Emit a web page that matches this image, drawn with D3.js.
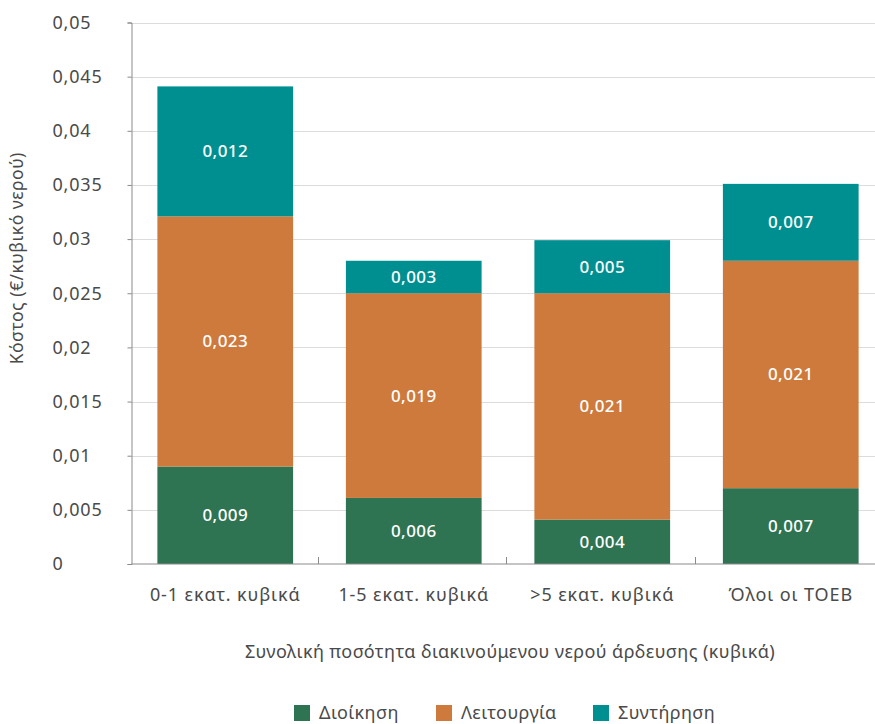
<!DOCTYPE html>
<html>
<head>
  <meta charset="utf-8">
  <title>Κόστος</title>
  <style type="text/css">
    body { margin: 0; background: #fff; overflow: hidden; }
    svg { font-family: "Noto Sans", sans-serif; }
    .grid line { stroke: #dcdcdc; }
  </style>
</head>
<body>
  <script src="https://cdn.jsdelivr.net/npm/d3@7"></script>
  <script type="text/javascript">
    var w = 875;
    var h = 724;

    // data
    var categories = ["0-1 εκατ. κυβικά", "1-5 εκατ. κυβικά", ">5 εκατ. κυβικά", "Όλοι οι ΤΟΕΒ"];
    var dioikisi = [0.0090, 0.0061, 0.0041, 0.0070];
    var leitourgia = [0.0231, 0.0189, 0.0209, 0.0210];
    var syntirisi = [0.0120, 0.0030, 0.0049, 0.0071];
    var seriesNames = ["Διοίκηση", "Λειτουργία", "Συντήρηση"];
    var colors = ["#2e7352", "#cd7a3c", "#008f91"];
    var yTicks = [0, 0.005, 0.01, 0.015, 0.02, 0.025, 0.03, 0.035, 0.04, 0.045, 0.05];

    // plot runs a little past the right edge of the window
    var margin = { left: 131, right: 885, top: 22.5, bottom: 564 };
    var textColor = "#4a4a4a";

    var rows = categories.map(function(c, i) {
      return { cat: c, d: dioikisi[i], l: leitourgia[i], s: syntirisi[i] };
    });
    var stack = d3.stack().keys(["d", "l", "s"])(rows);

    var x = d3.scaleBand()
      .domain(categories)
      .range([margin.left, margin.right])
      .paddingInner(0.28)
      .paddingOuter(0.14);

    var y = d3.scaleLinear()
      .domain([0, 0.05])
      .range([margin.bottom, margin.top]);

    var comma = function(v) { return String(v).replace(".", ","); };
    var fmt3 = function(v) { return d3.format(".3f")(v).replace(".", ","); };

    var svg = d3.select("body")
      .append("svg")
      .attr("width", w)
      .attr("height", h);

    // gridlines
    svg.append("g")
      .attr("class", "grid")
      .selectAll("line")
      .data(yTicks.slice(1))
      .enter()
      .append("line")
      .attr("x1", margin.left)
      .attr("x2", margin.right)
      .attr("y1", function(d) { return Math.round(y(d)) + 0.5; })
      .attr("y2", function(d) { return Math.round(y(d)) + 0.5; });

    // bars
    svg.append("g")
      .selectAll("g")
      .data(stack)
      .enter()
      .append("g")
      .attr("fill", function(d, i) { return colors[i]; })
      .selectAll("rect")
      .data(function(d) { return d; })
      .enter()
      .append("rect")
      .attr("x", function(d) { return x(d.data.cat); })
      .attr("width", x.bandwidth())
      .attr("y", function(d) { return y(d[1]); })
      .attr("height", function(d) { return y(d[0]) - y(d[1]); });

    // value labels
    svg.append("g")
      .selectAll("g")
      .data(stack)
      .enter()
      .append("g")
      .selectAll("text")
      .data(function(d) { return d; })
      .enter()
      .append("text")
      .attr("x", function(d) { return x(d.data.cat) + x.bandwidth() / 2; })
      .attr("y", function(d) { return (y(d[0]) + y(d[1])) / 2; })
      .attr("dy", "0.35em")
      .attr("text-anchor", "middle")
      .attr("fill", "#fff")
      .attr("font-size", 17)
      .attr("font-weight", 500)
      .attr("letter-spacing", 0.4)
      .text(function(d) { return fmt3(d[1] - d[0]); });

    // y axis
    var yAxis = svg.append("g")
      .attr("transform", "translate(" + (margin.left + 0.5) + ",0)")
      .call(d3.axisLeft(y).tickValues(yTicks).tickSize(4).tickFormat(comma))
      .attr("font-family", null);
    yAxis.select(".domain").attr("stroke", "#8a8a8a");
    yAxis.selectAll(".tick line").attr("stroke", "#8a8a8a");
    yAxis.selectAll(".tick text")
      .attr("x", 52 - margin.left)
      .attr("text-anchor", "start")
      .attr("font-size", 18)
      .attr("letter-spacing", 0.8)
      .attr("fill", textColor);

    // x axis
    var xAxis = svg.append("g")
      .attr("transform", "translate(0," + (margin.bottom - 0.5) + ")")
      .call(d3.axisBottom(x).tickSize(0).tickPadding(25))
      .attr("font-family", null);
    xAxis.select(".domain").attr("stroke", "#8a8a8a");
    xAxis.selectAll(".tick text")
      .attr("font-size", 18)
      .attr("letter-spacing", 0.9)
      .attr("fill", textColor);

    // category separators
    var gap = (x.step() - x.bandwidth()) / 2;
    svg.append("g")
      .selectAll("line")
      .data(categories.slice(1))
      .enter()
      .append("line")
      .attr("x1", function(d) { return Math.round(x(d) - gap) - 1.5; })
      .attr("x2", function(d) { return Math.round(x(d) - gap) - 1.5; })
      .attr("y1", margin.bottom - 7)
      .attr("y2", margin.bottom)
      .attr("stroke", "#8a8a8a");

    // axis titles
    svg.append("text")
      .attr("transform", "translate(23," + ((margin.top + margin.bottom) / 2 - 35) + ") rotate(-90)")
      .attr("text-anchor", "middle")
      .attr("font-size", 17.5)
      .attr("letter-spacing", 0.5)
      .attr("fill", textColor)
      .text("Κόστος (€/κυβικό νερού)");

    svg.append("text")
      .attr("x", 510)
      .attr("y", 658)
      .attr("text-anchor", "middle")
      .attr("font-size", 18)
      .attr("letter-spacing", 0.4)
      .attr("fill", textColor)
      .text("Συνολική ποσότητα διακινούμενου νερού άρδευσης (κυβικά)");

    // legend
    var legendX = [294, 436, 593];
    var legend = svg.append("g")
      .selectAll("g")
      .data(seriesNames)
      .enter()
      .append("g")
      .attr("transform", function(d, i) { return "translate(" + legendX[i] + ",705)"; });
    legend.append("rect")
      .attr("width", 16)
      .attr("height", 16)
      .attr("fill", function(d, i) { return colors[i]; });
    legend.append("text")
      .attr("x", 25)
      .attr("y", 8)
      .attr("dy", "0.35em")
      .attr("font-size", 18)
      .attr("letter-spacing", 0.4)
      .attr("fill", textColor)
      .text(function(d) { return d; });
  </script>
</body>
</html>
